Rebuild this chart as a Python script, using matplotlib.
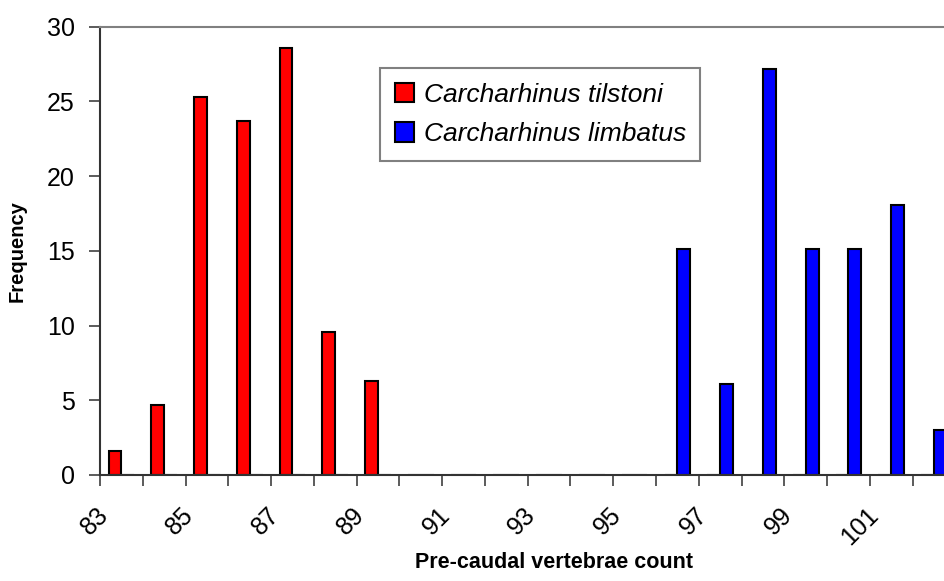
import numpy as np
import matplotlib.pyplot as plt

plt.rcParams['font.family'] = ['Liberation Sans', 'DejaVu Sans']

# vertebrae counts on the category axis
counts = list(range(83, 103))
# frequencies (0 = no bar)
tilstoni = [1.6, 4.7, 25.3, 23.7, 28.6, 9.6, 6.3, 0, 0, 0,
            0, 0, 0, 0, 0, 0, 0, 0, 0, 0]
limbatus = [0, 0, 0, 0, 0, 0, 0, 0, 0, 0,
            0, 0, 0, 15.1, 6.1, 27.2, 15.1, 15.1, 18.1, 3.0]
tick_labels = [str(c) for c in counts[::2]]

fig = plt.figure(figsize=(9.45, 5.81), dpi=100)
# plot area runs slightly past the right edge, as in the original
ax = fig.add_axes([100 / 945, 106 / 581, 855.4 / 945, 448.3 / 581])

x = np.arange(len(counts))
w = 0.3
ax.bar(x, tilstoni, width=-w, align='edge', color='#ff0000',
       edgecolor='black', linewidth=1.5, label='Carcharhinus tilstoni')
ax.bar(x, limbatus, width=w, align='edge', color='#0000ff',
       edgecolor='black', linewidth=1.5, label='Carcharhinus limbatus')

ax.set_xlim(-0.5, len(counts) - 0.5)
ax.set_ylim(0, 30)
ax.set_yticks(range(0, 31, 5))

# ticks on category boundaries, labels every other category
ax.set_xticks(np.arange(len(counts) + 1) - 0.5)
ax.set_xticklabels([])
ax.set_xticks(x[::2] - 0.2, tick_labels, minor=True)
ax.tick_params(axis='x', which='minor', length=0, pad=20)
plt.setp(ax.get_xticklabels(minor=True), rotation=45, ha='right')

ax.tick_params(axis='both', which='major', direction='out', length=8,
               width=1.2, color='#404040', labelsize=18)
ax.tick_params(axis='y', pad=10)
ax.tick_params(axis='x', which='minor', labelsize=18)

for s in ['left', 'bottom']:
    ax.spines[s].set_color('#333333')
    ax.spines[s].set_linewidth(1.5)
ax.spines['top'].set_color('#808080')
ax.spines['top'].set_linewidth(1.5)
ax.spines['right'].set_visible(False)

ax.set_xlabel('Pre-caudal vertebrae count', fontsize=15.5, fontweight='bold')
ax.xaxis.set_label_coords(0.531, -0.172)
ax.set_ylabel('Frequency', fontsize=14.5, fontweight='bold')
ax.yaxis.set_label_coords(-0.086, 0.5)

leg = ax.legend(loc='upper left', bbox_to_anchor=(380 / 945, 1 - 68 / 581),
                bbox_transform=fig.transFigure, borderaxespad=0,
                fancybox=False, framealpha=1, edgecolor='#808080',
                prop={'style': 'italic', 'size': 19},
                handlelength=0.75, handleheight=0.75, handletextpad=0.35,
                labelspacing=0.6, borderpad=0.55)
leg.get_frame().set_linewidth(1.5)

fig.savefig('out.png', dpi=100)
